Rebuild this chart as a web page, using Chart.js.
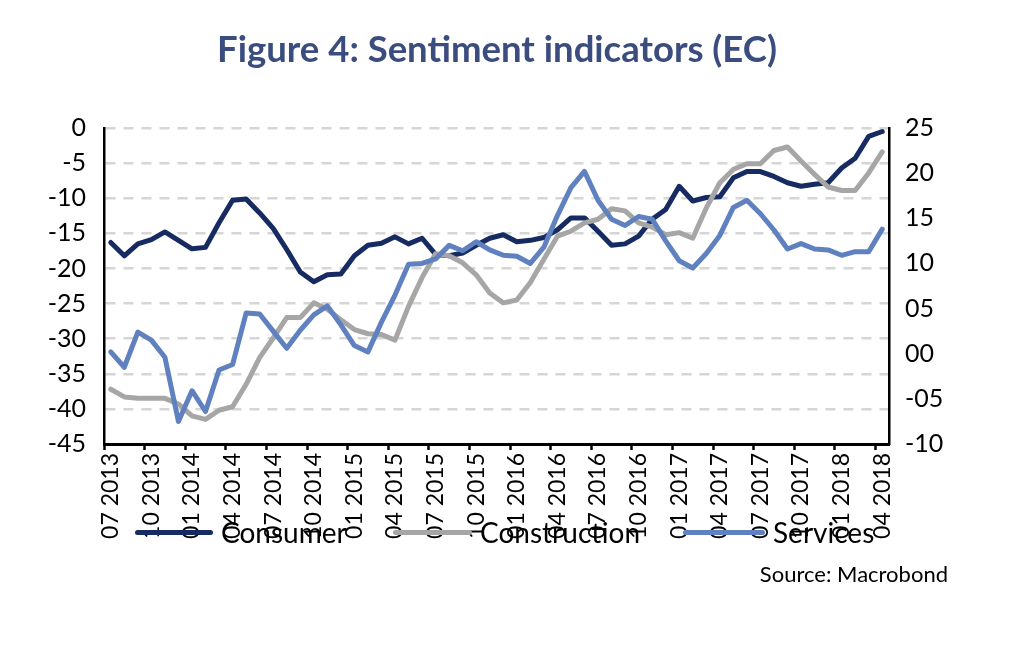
<!DOCTYPE html>
<html>
<head>
<meta charset="utf-8">
<title>Figure 4: Sentiment indicators (EC)</title>
<script src="https://cdn.jsdelivr.net/npm/chart.js@4.4.1/dist/chart.umd.min.js"></script>
<style>
  body { margin: 0; background: #fff; }
  #wrap { position: relative; width: 1024px; height: 648px; font-family: Lato, sans-serif; }
  #chart { position: absolute; left: 0; top: 0; }
  #title { position: absolute; left: 0; top: 26px; width: 994px; text-align: center; font-size: 36.5px; font-weight: bold; color: #3b4c7e; line-height: 44px; }
  .legend-item { position: absolute; top: 514px; height: 36px; display: flex; align-items: center; font-size: 28px; color: #000; white-space: nowrap; }
  .swatch { display: inline-block; height: 5px; border-radius: 3px; margin-right: 8px; }
  #source { position: absolute; right: 76px; top: 560px; font-size: 22px; color: #000; }
</style>
</head>
<body>
<div id="wrap">
  <canvas id="chart" width="1024" height="648"></canvas>
  <div id="title">Figure 4: Sentiment indicators (EC)</div>
  <div id="legend"></div>
  <div id="source">Source: Macrobond</div>
</div>
<script>
// monthly, 07 2013 .. 04 2018
const startYear = 2013;
const startMonth = 7;
const monthCount = 58;

const seriesNames = ["Consumer", "Construction", "Services"];
const seriesColors = ["#172b63", "#a6a6a6", "#5f81bf"];

// left axis
const consumer = [
  -16.3, -18.2, -16.5, -15.9, -14.8, -16.0, -17.2, -17.0, -13.5, -10.3,
  -10.1, -12.1, -14.3, -17.3, -20.5, -21.9, -20.9, -20.8, -18.2, -16.7,
  -16.4, -15.5, -16.5, -15.7, -18.0, -18.2, -17.8, -16.7, -15.7, -15.2,
  -16.2, -16.0, -15.6, -14.5, -12.8, -12.8, -14.7, -16.7, -16.5, -15.4,
  -13.0, -11.6, -8.3, -10.4, -9.9, -9.8, -7.1, -6.2, -6.2, -6.9,
  -7.8, -8.3, -8.0, -7.8, -5.7, -4.3, -1.2, -0.5
];
const construction = [
  -37.2, -38.3, -38.5, -38.5, -38.5, -39.3, -41.0, -41.5, -40.2, -39.7,
  -36.5, -32.7, -29.9, -27.0, -27.0, -24.9, -25.8, -27.3, -28.7, -29.3,
  -29.4, -30.2, -25.4, -21.3, -17.9, -18.2, -19.2, -20.9, -23.5, -24.9,
  -24.5, -22.0, -18.7, -15.4, -14.7, -13.5, -13.0, -11.5, -11.8, -13.5,
  -14.1, -15.2, -14.9, -15.7, -11.4, -7.8, -5.9, -5.1, -5.1, -3.2,
  -2.7, -4.7, -6.6, -8.4, -8.9, -8.9, -6.4, -3.4
];
// right axis
const services = [
  0.2, -1.5, 2.4, 1.5, -0.4, -7.5, -4.1, -6.4, -1.8, -1.2,
  4.5, 4.4, 2.5, 0.6, 2.6, 4.3, 5.3, 3.2, 0.9, 0.2,
  3.5, 6.5, 9.9, 10.0, 10.5, 12.0, 11.4, 12.4, 11.5, 10.9,
  10.8, 10.0, 11.8, 15.3, 18.4, 20.2, 17.0, 14.9, 14.2, 15.2,
  14.9, 12.5, 10.3, 9.5, 11.1, 13.1, 16.2, 17.0, 15.5, 13.7,
  11.6, 12.2, 11.6, 11.5, 10.9, 11.3, 11.3, 13.8
];

const leftTicks = { min: -45, max: 0, step: 5 };
const rightTicks = { min: -10, max: 25, step: 5 };

const months = [];
for (let i = 0; i < monthCount; i++) {
  const m = ((startMonth - 1 + i) % 12) + 1;
  const y = startYear + Math.floor((startMonth - 1 + i) / 12);
  months.push(String(m).padStart(2, "0") + " " + y);
}

function padTick(v) {
  return (v < 0 ? "-" : "") + String(Math.abs(v)).padStart(2, "0");
}

const values = [consumer, construction, services];
const axisFor = ["y", "y", "y1"];

const datasets = seriesNames.map((name, i) => ({
  label: name,
  data: values[i],
  yAxisID: axisFor[i],
  borderColor: seriesColors[i],
  backgroundColor: seriesColors[i],
  borderWidth: 5,
  borderJoinStyle: "round",
  borderCapStyle: "round",
  pointRadius: 0,
  tension: 0,
  order: seriesNames.length - i,
}));

// legend, laid over the axis labels like the original
const legendPos = [
  { left: 135, line: 78 },
  { left: 393, line: 79 },
  { left: 683, line: 82 },
];
const legend = document.getElementById("legend");
seriesNames.forEach((name, i) => {
  const item = document.createElement("div");
  item.className = "legend-item";
  item.style.left = legendPos[i].left + "px";
  item.innerHTML =
    `<span class="swatch" style="width:${legendPos[i].line}px;background:${seriesColors[i]}"></span>${name}`;
  legend.appendChild(item);
});

const ctx = document.getElementById("chart").getContext("2d");
const chart = new Chart(ctx, {
  type: "line",
  data: { labels: months, datasets: datasets },
  options: {
    responsive: false,
    animation: false,
    devicePixelRatio: 1,
    layout: { padding: { top: 128 } },
    plugins: {
      legend: { display: false },
      tooltip: { enabled: false },
    },
    scales: {
      x: {
        type: "category",
        offset: true,
        afterFit: (s) => { s.height = 204; },
        grid: {
          offset: true,
          drawOnChartArea: false,
          drawTicks: true,
          tickLength: 6,
          tickWidth: 2.5,
          tickColor: (c) => (c.index % 3 === 0 ? "#000" : "rgba(0,0,0,0)"),
        },
        border: { display: true, color: "#000", width: 3 },
        ticks: {
          autoSkip: false,
          maxRotation: 90,
          minRotation: 90,
          padding: 3,
          color: "#000",
          font: { family: "Lato", size: 23 },
          callback: (v, i) => (i % 3 === 0 ? months[i] : ""),
        },
      },
      y: {
        position: "left",
        min: leftTicks.min,
        max: leftTicks.max,
        afterFit: (s) => { s.width = 104; },
        grid: {
          drawTicks: false,
          lineWidth: 2.5,
          color: (c) => (c.tick && c.tick.value === leftTicks.min ? "rgba(0,0,0,0)" : "#d6d6d6"),
        },
        border: { display: true, color: "#000", width: 2.5, dash: [10, 8] },
        ticks: {
          stepSize: leftTicks.step,
          padding: 18,
          color: "#000",
          font: { family: "Lato", size: 25 },
        },
      },
      y1: {
        position: "right",
        min: rightTicks.min,
        max: rightTicks.max,
        afterFit: (s) => { s.width = 135; },
        grid: { drawOnChartArea: false, drawTicks: false },
        border: { display: true, color: "#000", width: 2.5 },
        ticks: {
          stepSize: rightTicks.step,
          padding: 16,
          color: "#000",
          font: { family: "Lato", size: 25 },
          callback: (v) => padTick(v),
        },
      },
    },
  },
});
</script>
</body>
</html>
